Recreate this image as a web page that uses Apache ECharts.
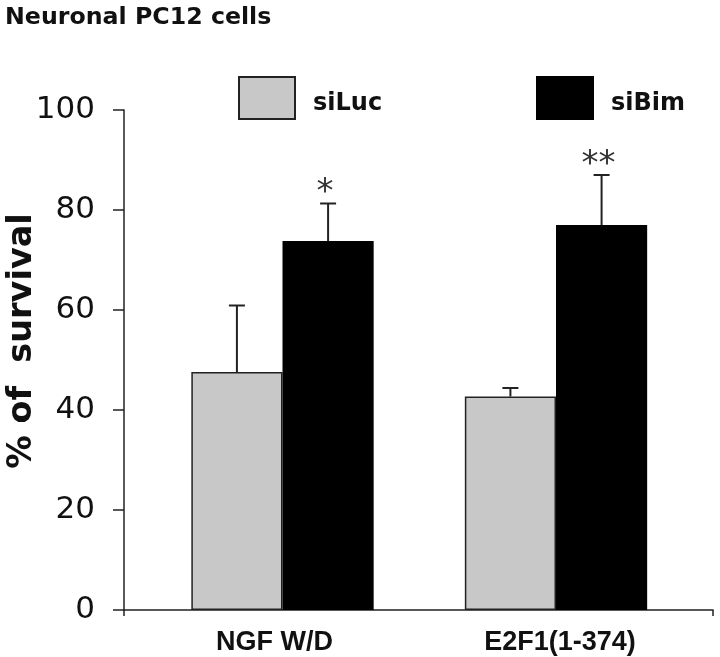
<!DOCTYPE html>
<html>
<head>
<meta charset="utf-8">
<script src="https://cdn.jsdelivr.net/npm/echarts@6/dist/echarts.min.js"></script>
<style>html,body{margin:0;padding:0;background:#fff}#c{width:720px;height:657px}</style>
</head>
<body>
<div id="c"></div>
<script>
const categories = ['NGF W/D', 'E2F1(1-374)'];
const siLuc = [47.6, 42.7];
const siBim = [73.8, 77.0];
const siLucErr = [13.3, 1.7];
const siBimErr = [7.5, 10.0];
const siLucSig = ['', ''];
const siBimSig = ['*', '**'];
const yTicks = [0, 20, 40, 60, 80, 100];

const catGap = 1 / 3;
const errData = [];
const errSig = [];
categories.forEach((c, i) => {
  errData.push([i, siLuc[i], siLucErr[i], -1]); errSig.push(siLucSig[i]);
  errData.push([i, siBim[i], siBimErr[i], 1]); errSig.push(siBimSig[i]);
});
const labelPads = [[0, 16, 0, 0], [0, 0, 0, 8]];
const catItems = categories.map((c, i) => ({ value: c, textStyle: { padding: labelPads[i] } }));

const legendText = {
  fontFamily: 'DejaVu Sans', fontWeight: 'bold', fontSize: 24, color: '#111',
  rich: { a: { fontFamily: 'DejaVu Sans', fontWeight: 'bold', fontSize: 24, color: '#111', padding: [11, 0, 0, 13] } }
};

const chart = echarts.init(document.getElementById('c'));
const gTop = 110, gBottom = 47;
chart.setOption({
  animation: false,
  title: {
    text: 'Neuronal PC12 cells', left: 0, top: 1,
    textStyle: { fontFamily: 'DejaVu Sans', fontWeight: 'bold', fontSize: 23.7, color: '#111' }
  },
  legend: [
    { data: ['siLuc'], left: 238, top: 76, padding: 0, itemWidth: 56, itemHeight: 42, icon: 'rect',
      formatter: '{a|{name}}', textStyle: legendText },
    { data: ['siBim'], left: 536, top: 76, padding: 0, itemWidth: 56, itemHeight: 42, icon: 'rect',
      formatter: '{a|{name}}', textStyle: legendText }
  ],
  grid: [
    { left: 145.75, right: 27.25, top: gTop, bottom: gBottom, containLabel: false, outerBoundsMode: 'none' },
    { left: 124, right: 7, top: gTop, bottom: gBottom, containLabel: false, outerBoundsMode: 'none' }
  ],
  xAxis: [
    { type: 'category', gridIndex: 0, data: catItems,
      axisLine: { show: false }, axisTick: { show: false },
      axisLabel: { margin: 19, fontFamily: 'Liberation Sans', fontWeight: 'bold', fontSize: 27, color: '#111' } },
    { type: 'value', gridIndex: 1, min: 0, max: 1, interval: 1,
      axisLine: { show: true, lineStyle: { color: '#222', width: 1.5 } },
      axisTick: { show: true, length: 6, lineStyle: { color: '#222', width: 1.5 } },
      axisLabel: { show: false }, splitLine: { show: false } }
  ],
  yAxis: [
    { type: 'value', gridIndex: 0, min: 0, max: 100, show: false, splitLine: { show: false } },
    { type: 'value', gridIndex: 1, min: yTicks[0], max: yTicks[yTicks.length - 1], interval: 20,
      name: '% of  survival', nameLocation: 'middle', nameRotate: 90, nameGap: 85, nameMoveOverlap: false,
      nameTextStyle: { fontFamily: 'DejaVu Sans', fontWeight: 'bold', fontSize: 33.5, color: '#111', padding: [0, 0, 0, 38] },
      axisLine: { show: true, lineStyle: { color: '#222', width: 1.5 } },
      axisTick: { show: true, length: 11, lineStyle: { color: '#222', width: 1.5 } },
      axisLabel: { margin: 29, fontFamily: 'DejaVu Sans', fontSize: 31, color: '#111' },
      splitLine: { show: false } }
  ],
  series: [
    { name: 'siLuc', type: 'bar', xAxisIndex: 0, yAxisIndex: 0, data: siLuc,
      barGap: '0%', barCategoryGap: (catGap * 100) + '%',
      itemStyle: { color: '#c8c8c8', borderColor: '#222', borderWidth: 1.5 } },
    { name: 'siBim', type: 'bar', xAxisIndex: 0, yAxisIndex: 0, data: siBim,
      barGap: '0%', barCategoryGap: (catGap * 100) + '%',
      itemStyle: { color: '#000', borderColor: '#000', borderWidth: 1.5 } },
    { type: 'custom', xAxisIndex: 0, yAxisIndex: 0, data: errData, z: 5,
      renderItem: function (params, api) {
        const x = api.value(0), v = api.value(1), e = api.value(2), side = api.value(3);
        const catW = api.size([1, 0])[0];
        const bw = catW * (1 - catGap) / 2;
        const base = api.coord([x, v]);
        const cx = base[0] + side * bw / 2;
        const t = api.coord([x, v + e])[1];
        const ls = { stroke: '#222', lineWidth: 2 };
        const children = [
          { type: 'line', shape: { x1: cx, y1: base[1], x2: cx, y2: t }, style: ls },
          { type: 'line', shape: { x1: cx - 8, y1: t, x2: cx + 8, y2: t }, style: ls }
        ];
        const s = errSig[params.dataIndex];
        if (s) {
          children.push({ type: 'text', style: { text: s, x: cx - 3, y: t + 7, align: 'center', verticalAlign: 'bottom',
            font: '34px "DejaVu Sans"', fill: '#333' } });
        }
        return { type: 'group', children: children };
      }
    }
  ]
});
</script>
</body>
</html>
